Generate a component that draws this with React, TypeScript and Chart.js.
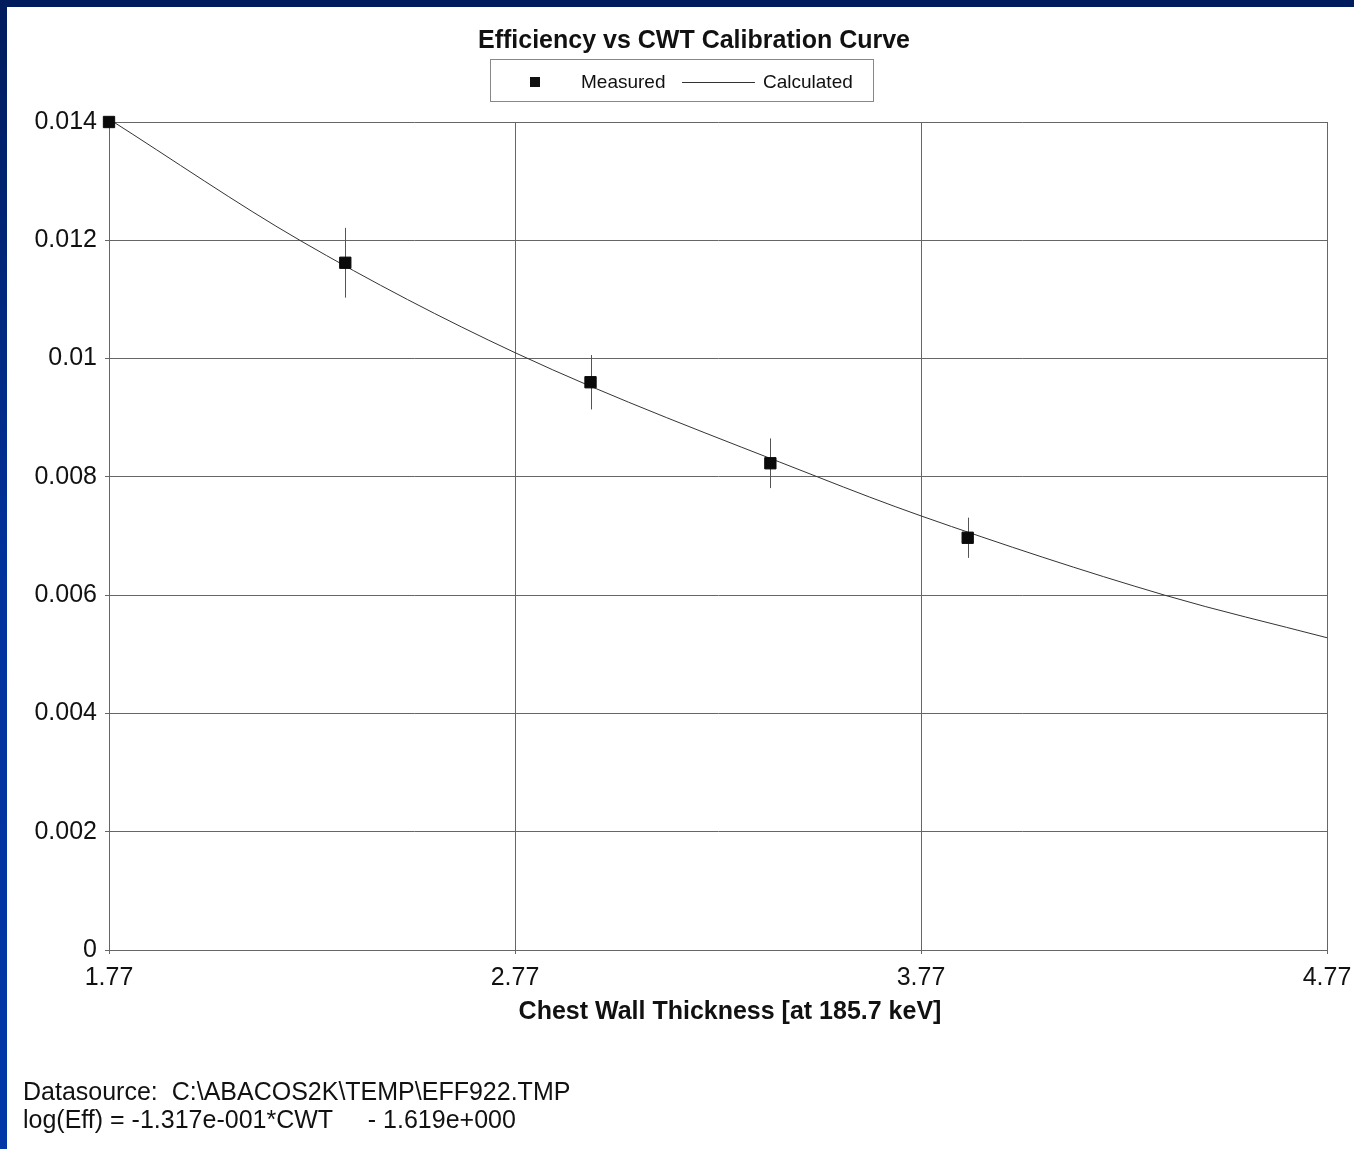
import React, { useEffect, useRef } from 'react';
import { Chart, registerables } from 'chart.js';

Chart.register(...registerables);

// ---- data ----
const xTicks = [1.77, 2.77, 3.77, 4.77];
const xTickLabels = ['1.77', '2.77', '3.77', '4.77'];
const yTicks = [0, 0.002, 0.004, 0.006, 0.008, 0.01, 0.012, 0.014];
const yTickLabels = ['0', '0.002', '0.004', '0.006', '0.008', '0.01', '0.012', '0.014'];

const measuredX = [1.77, 2.352, 2.956, 3.399, 3.885];
const measuredY = [0.014, 0.01162, 0.0096, 0.00823, 0.00697];
const measuredErr = [0, 0.00059, 0.00046, 0.00042, 0.00034];

const calculatedX = [1.77, 2.24, 2.77, 3.515, 3.77, 4.37, 4.77];
const calculatedY = [0.01405, 0.012, 0.0101, 0.008, 0.00734, 0.006, 0.00528];

const titleText = 'Efficiency vs CWT Calibration Curve';
const xTitleText = 'Chest Wall Thickness [at 185.7 keV]';
const legendLabels = ['Measured', 'Calculated'];
const footerLines = [
  'Datasource:  C:\\ABACOS2K\\TEMP\\EFF922.TMP',
  'log(Eff) = -1.317e-001*CWT     - 1.619e+000',
];

const FONT = '"Liberation Sans", Arial, sans-serif';
const GRID = '#666';
const TEXT = '#111';

const decorPlugin = {
  id: 'decor',
  beforeDatasetsDraw(chart: any) {
    const { ctx, scales } = chart;
    const xs = scales.x;
    const ys = scales.y;
    ctx.save();
    ctx.strokeStyle = '#555';
    ctx.lineWidth = 1;
    measuredX.forEach((x, i) => {
      const e = measuredErr[i];
      if (!e) return;
      const px = Math.round(xs.getPixelForValue(x)) + 0.5;
      ctx.beginPath();
      ctx.moveTo(px, ys.getPixelForValue(measuredY[i] + e));
      ctx.lineTo(px, ys.getPixelForValue(measuredY[i] - e));
      ctx.stroke();
    });
    ctx.restore();
  },
  afterDraw(chart: any) {
    const { ctx, chartArea } = chart;
    ctx.save();
    ctx.fillStyle = TEXT;
    ctx.textBaseline = 'middle';

    // title
    ctx.font = `bold 25px ${FONT}`;
    ctx.textAlign = 'center';
    ctx.fillText(titleText, 687, 34);

    // x axis title
    ctx.fillText(xTitleText, 723, chartArea.bottom + 62);

    // legend
    ctx.strokeStyle = '#888';
    ctx.lineWidth = 1;
    ctx.strokeRect(483.5, 52.5, 383, 42);
    ctx.fillStyle = '#111';
    ctx.fillRect(523, 70, 10, 10);
    ctx.font = `19px ${FONT}`;
    ctx.textAlign = 'left';
    ctx.fillText(legendLabels[0], 574, 76);
    ctx.strokeStyle = '#333';
    ctx.beginPath();
    ctx.moveTo(675, 75.5);
    ctx.lineTo(748, 75.5);
    ctx.stroke();
    ctx.fillText(legendLabels[1], 756, 76);

    // footer
    ctx.font = `25px ${FONT}`;
    ctx.fillStyle = TEXT;
    ctx.fillText(footerLines[0], 16, 1086);
    ctx.fillText(footerLines[1], 16, 1114);
    ctx.restore();
  },
};

export default function App() {
  const ref = useRef<HTMLCanvasElement | null>(null);

  useEffect(() => {
    if (!ref.current) return;
    const tickFont = { family: FONT, size: 25 };
    const chart = new Chart(ref.current, {
      type: 'scatter',
      data: {
        datasets: [
          {
            label: legendLabels[1],
            data: calculatedX.map((x, i) => ({ x, y: calculatedY[i] })),
            showLine: true,
            pointRadius: 0,
            borderColor: '#333',
            borderWidth: 1,
            cubicInterpolationMode: 'monotone',
            fill: false,
            order: 2,
          } as any,
          {
            label: legendLabels[0],
            data: measuredX.map((x, i) => ({ x, y: measuredY[i] })),
            showLine: false,
            pointStyle: 'rect',
            pointRadius: 8,
            backgroundColor: '#0a0a0a',
            borderColor: '#0a0a0a',
            borderWidth: 1,
            clip: false,
            order: 1,
          } as any,
        ],
      },
      options: {
        responsive: false,
        animation: false,
        devicePixelRatio: 1,
        layout: { padding: { left: 0, top: 115, right: 27, bottom: 0 } },
        plugins: {
          legend: { display: false },
          title: { display: false },
          tooltip: { enabled: false },
        },
        scales: {
          x: {
            type: 'linear',
            min: 1.77,
            max: 4.77,
            afterBuildTicks: (s: any) => {
              s.ticks = xTicks.map((v) => ({ value: v }));
            },
            afterFit: (s: any) => {
              s.height = 199;
              s.paddingLeft = 0;
              s.paddingRight = 0;
            },
            ticks: {
              callback: (_v: any, i: number) => xTickLabels[i],
              font: tickFont,
              color: TEXT,
              padding: 9,
              maxRotation: 0,
              autoSkip: false,
            },
            grid: { color: GRID, lineWidth: 1, tickLength: 4 },
            border: { color: GRID, width: 1 },
          },
          y: {
            type: 'linear',
            min: 0,
            max: 0.014,
            afterBuildTicks: (s: any) => {
              s.ticks = yTicks.map((v) => ({ value: v }));
            },
            afterFit: (s: any) => {
              s.width = 102;
              s.paddingTop = 0;
              s.paddingBottom = 0;
            },
            ticks: {
              callback: (_v: any, i: number) => yTickLabels[i],
              font: tickFont,
              color: TEXT,
              padding: 8,
              autoSkip: false,
            },
            grid: { color: GRID, lineWidth: 1, tickLength: 4 },
            border: { color: GRID, width: 1 },
          },
        },
      } as any,
      plugins: [decorPlugin],
    });
    return () => chart.destroy();
  }, []);

  return (
    <div
      style={{
        position: 'fixed',
        left: 0,
        top: 0,
        width: 1354,
        height: 1149,
        overflow: 'hidden',
        background: 'linear-gradient(to bottom, #001c5c 0%, #00339c 50%, #0038a8 100%)',
      }}
    >
      <div style={{ position: 'absolute', left: 7, top: 7, width: 1347, height: 1142, background: '#fff' }}>
        <canvas ref={ref} width={1347} height={1142} style={{ display: 'block' }} />
      </div>
    </div>
  );
}
